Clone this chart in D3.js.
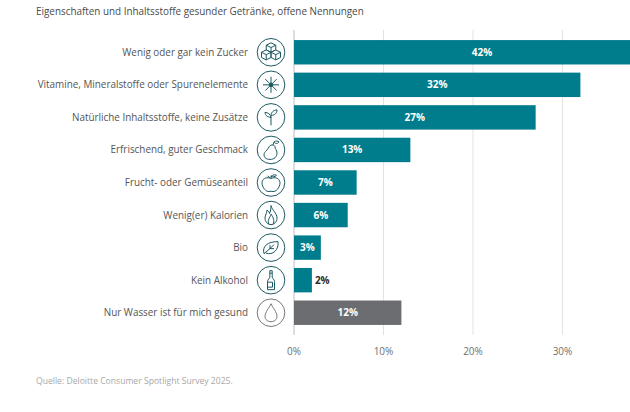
<!DOCTYPE html>
<html><head><meta charset="utf-8">
<script src="https://cdn.jsdelivr.net/npm/d3@7"></script>
<style>
html,body{margin:0;padding:0;background:#fff;overflow:hidden}
svg{display:block}
text{font-family:"Open Sans",sans-serif}
</style></head><body>
<svg id="c" width="630" height="412"></svg>
<script>
const categories=["Wenig oder gar kein Zucker","Vitamine, Mineralstoffe oder Spurenelemente","Natürliche Inhaltsstoffe, keine Zusätze","Erfrischend, guter Geschmack","Frucht- oder Gemüseanteil","Wenig(er) Kalorien","Bio","Kein Alkohol","Nur Wasser ist für mich gesund"];
const values=[42,32,27,13,7,6,3,2,12];
const barColors=["#007d8c","#007d8c","#007d8c","#007d8c","#007d8c","#007d8c","#007d8c","#007d8c","#6b6d70"];
const ticks=[0,10,20,30];
const titleText="Eigenschaften und Inhaltsstoffe gesunder Getränke, offene Nennungen";
const sourceText="Quelle: Deloitte Consumer Spotlight Survey 2025.";
const iconPaths=[
"M0-9.500 4.750-7.100V-2.400L0 0-4.750-2.400V-7.100ZM-4.750-7.100 0-4.750 4.750-7.100M0-4.750V0M-4.750-2.400 0 0V5.200L-4.750 7.600-9.500 5.200V0ZM-9.500 0-4.750 2.400 0 0M-4.750 2.400V7.600M4.750-2.400 9.500 0V5.200L4.750 7.600 0 5.200V0ZM0 0 4.750 2.400 9.500 0M4.750 2.400V7.600",
"M-8 0H8M0-8V8M-5.700-5.700 5.700 5.700M-5.700 5.700 5.700-5.700",
"M0-1V8M0 0C-.5-3-3-5-6-5-6-2-3 0 0 0ZM0-2C0-5 3-7.500 6-7.500 6-4 3.500-2 0-2Z",
"M1-5C-2-5-2-2-4 0-6 2-7 3-7 5-7 8-4 9.500-1 9.500 3 9.500 6 7 6 3 6 0 4-1 4-3 4-4 3-5 1-5ZM2-5 3-8M3-8C5-9.500 7-9 8-8 7-6 4-6 3-8",
"M0-4C-3-5.500-8.500-5-9 0-9 5.500-4.500 9.500-2 9-1 8.600 1 8.600 2 9 4.500 9.500 9 5.500 9 0 8.500-5 3-5.500 0-4ZM0-4V-7M0-6C2-8 4.500-8 5.500-7.200 4-5.500 2-5.500 0-6M-3.500-6.500-1-4.800",
"M0-9.500C1-5 6-2 6 3 6 7 3 9.500 0 9.500-3 9.500-6 7-6 3-6 0-4-2-4-5-2.500-4-1.500-2.500-1.500-1.500-.5-3 0-7 0-9.500ZM-2 9.500C-4 5-1 3 0-1 2 2 4 6 2 9.500",
"M-7 6C-9-1-4-6 7-6 8 2 2 8-5 5.500M-7 6-1 1M-1 1 3-3M-1-2.500-1 1 3 1",
"M-1.200-9.500H1.200V-3C1.200-1.500 3.500-1 3.500 1.500V9.500H-3.500V1.500C-3.500-1-1.200-1.500-1.200-3ZM-1.200-7H1.200M-3.500 2H1.500V7H-3.500",
"M0-9C1.500-5 6-1 6 4 6 7 3 9 0 9-3 9-6 7-6 4-6-1-1.500-5 0-9Z"
];
const svg=d3.select("#c");
const x=d3.scaleLinear().domain([0,30]).range([294,562.5]);
const y=d3.scaleBand().domain(categories).range([36,329]).paddingInner(0.25).paddingOuter(0.125);
svg.append("defs").append("clipPath").attr("id","pg").append("rect").attr("x",0).attr("y",0).attr("width",630).attr("height",412);

svg.append("text").attr("x",36).attr("y",15).attr("font-size",9.900).attr("fill","#4a4a4a").text(titleText);

svg.append("g").selectAll("line").data(ticks).join("line")
 .attr("x1",d=>x(d)).attr("x2",d=>x(d)).attr("y1",30).attr("y2",335)
 .attr("stroke",d=>d===0?"#bdbdbd":"#e2e2e2").attr("stroke-width",1);

const row=svg.append("g").attr("clip-path","url(#pg)").selectAll("g").data(categories).join("g");
row.append("rect").attr("x",x(0)).attr("y",d=>y(d)).attr("height",y.bandwidth())
 .attr("width",(d,i)=>x(values[i])-x(0)).attr("fill",(d,i)=>barColors[i]);

svg.append("g").selectAll("text").data(categories).join("text")
 .attr("x",(d,i)=>values[i]===2?x(2)+3:(x(0)+x(values[i]))/2)
 .attr("y",d=>y(d)+y.bandwidth()/2+3.500)
 .attr("text-anchor",(d,i)=>values[i]===2?"start":"middle")
 .attr("font-size",10).attr("font-weight",700)
 .attr("fill",(d,i)=>values[i]===2?"#2b2b2b":"#fff")
 .text((d,i)=>values[i]+"%");

svg.append("g").selectAll("text").data(categories).join("text")
 .attr("x",248).attr("y",d=>y(d)+y.bandwidth()/2+3.500).attr("text-anchor","end")
 .attr("font-size",9.900).attr("fill","#555").text(d=>d);

const ic=svg.append("g").selectAll("g").data(categories).join("g")
 .attr("transform",d=>`translate(271,${y(d)+y.bandwidth()/2})`)
 .attr("fill","none").attr("stroke",(d,i)=>i===8?"#75777a":"#1d5a63");
ic.append("circle").attr("r",13.800).attr("stroke-width",1);
ic.append("path").attr("d",(d,i)=>iconPaths[i]).attr("stroke-width",1).attr("stroke-linejoin","round");
ic.filter((d,i)=>i===1).append("circle").attr("r",1.800).attr("fill","#1d5a63");

svg.append("g").selectAll("text").data(ticks).join("text")
 .attr("x",d=>x(d)).attr("y",355).attr("text-anchor","middle")
 .attr("font-size",10).attr("fill","#707070").text(d=>d+"%");

svg.append("text").attr("x",36).attr("y",384).attr("font-size",8.600).attr("fill","#a8a8a8").text(sourceText);
</script></body></html>
